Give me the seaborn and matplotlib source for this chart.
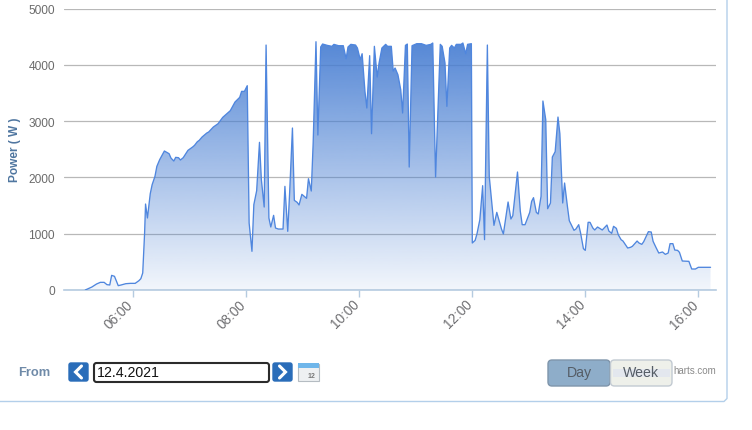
import numpy as np
import pandas as pd
import matplotlib
matplotlib.use("Agg")
import matplotlib.pyplot as plt
from matplotlib.colors import LinearSegmentedColormap
from matplotlib.patches import FancyBboxPatch, Rectangle
from matplotlib.transforms import ScaledTranslation
import seaborn as sns

minutes = [309,316,321,325,329,332,335,337,340,344,347,352,357,362,366,368,370,372,373,375,378,380,383,385,388,393,398,400,403,405,408,410,413,418,423,425,428,430,433,438,440,445,450,455,463,468,473,475,478,481,
           483,486,488,491,494,496,499,501,504,506,509,511,514,519,521,524,526,529,531,534,536,539,544,546,549,551,554,556,559,561,566,571,573,578,583,586,588,591,596,598,601,603,606,608,611,613,616,619,621,624,
           628,630,634,636,638,641,644,646,649,651,653,656,661,666,671,676,678,681,686,688,691,693,696,698,701,703,708,710,713,715,719,720,723,725,728,731,733,736,738,741,743,746,751,753,758,761,763,768,771,773,
           776,781,783,785,788,790,793,795,798,800,803,805,808,811,813,816,818,821,823,828,830,833,835,838,840,843,845,848,850,853,858,863,865,868,870,873,875,878,880,885,888,890,895,897,900,902,907,910,912,915,
           918,922,925,928,930,933,935,938,940,943,950,953,957,960,973]
watts = [0,53,107,136,136,95,89,260,243,77,89,112,118,118,166,201,302,1012,1527,1279,1711,1871,2019,2196,2315,2469,2421,2344,2291,2356,2350,2309,2350,2480,2540,2569,2634,2658,2717,2788,2806,2895,2954,3067,3185,3339,3422,3528,3528,3629,
         1190,687,1516,1764,2623,1960,1474,4351,1279,1119,1326,1101,1083,1083,1841,1042,1723,2877,1592,1557,1510,1699,1628,1977,1758,2611,4410,2753,4316,4369,4345,4328,4363,4339,4339,4108,4316,4363,4351,4298,4091,4197,3528,3232,4162,2776,4328,3783,4032,4298,
         4363,4328,4328,3889,3943,3824,3558,3144,4345,4369,2184,4339,4375,4375,4345,4363,4387,2007,4363,4328,4032,3262,4298,4345,4298,4363,4363,4387,4197,4363,4375,835,882,1000,1249,1853,894,4351,2019,1486,1148,1379,1083,995,1563,1261,1320,2096,1397,1160,
         1160,1379,1575,1640,1379,1350,1664,3357,3025,1444,1545,2362,2457,3072,2776,1545,1900,1486,1231,1060,1083,1160,1012,734,704,1202,1202,1101,1066,1119,1066,1154,1048,1006,1131,1095,983,894,870,746,758,776,870,835,811,858,1036,1030,864,758,
         657,675,633,657,823,823,710,704,669,515,509,373,373,403,403]
x_ticks = [360, 480, 600, 720, 840, 960]
x_labels = ["06:00", "08:00", "10:00", "12:00", "14:00", "16:00"]
y_ticks = [0, 1000, 2000, 3000, 4000, 5000]
y_title = "Power ( W )"
date_text = "12.4.2021"
from_text = "From"
range_buttons = ["Day", "Week"]
credit_text = "harts.com"

sns.set_theme(style="white")
plt.rcParams["font.family"] = ["Liberation Sans", "DejaVu Sans"]

W, H = 752, 431
fig = plt.figure(figsize=(W / 100, H / 100), dpi=100, facecolor="white")
ax = fig.add_axes([64 / W, 1 - 291 / H, (716 - 64) / W, (291 - 9.5) / H])
df = pd.DataFrame({"minute": minutes, "power": watts})

ax.set_xlim(286.4, 978.8)
ax.set_ylim(0, 5000)
ax.set_axisbelow(True)
ax.yaxis.grid(True, color="#b8b8b8", lw=0.9)
ax.xaxis.grid(False)

cmap = LinearSegmentedColormap.from_list(
    "fade", [(70 / 255, 125 / 255, 210 / 255, 0.92), (70 / 255, 125 / 255, 210 / 255, 0.07)]
)
area = ax.fill_between(df["minute"], df["power"], 0, color="none", lw=0)
grad = ax.imshow(np.linspace(0, 1, 256).reshape(-1, 1), cmap=cmap, aspect="auto", origin="upper",
                 extent=[df["minute"].min(), df["minute"].max(), 0, df["power"].max()], zorder=2)
grad.set_clip_path(area.get_paths()[0], transform=ax.transData)
ax.set_xlim(286.4, 978.8)
ax.set_ylim(0, 5000)

sns.lineplot(data=df, x="minute", y="power", ax=ax, color="#4f86de", lw=0.95, zorder=3,
             estimator=None, sort=False)

for s in ["top", "left", "right"]:
    ax.spines[s].set_visible(False)
ax.spines["bottom"].set_color("#b5cbe0")
ax.spines["bottom"].set_linewidth(1.2)
ax.set_xticks(x_ticks)
ax.set_xticklabels(x_labels, rotation=45, ha="right", rotation_mode="anchor")
ax.set_yticks(y_ticks)
ax.tick_params(axis="x", length=5, width=1, color="#b5cbe0", labelcolor="#6f6f72", labelsize=9.8, pad=6, bottom=True)
ax.tick_params(axis="y", length=0, labelcolor="#6b6b6b", labelsize=8.6, pad=6.5)
offset = ScaledTranslation(-7.5 / 100, 8.5 / 100, fig.dpi_scale_trans)
for lab in ax.get_xticklabels():
    lab.set_transform(lab.get_transform() + offset)
ax.set_xlabel("")
ax.set_ylabel("")

ui = fig.add_axes([0, 0, 1, 1], facecolor="none", zorder=5)
ui.set_xlim(0, W)
ui.set_ylim(H, 0)
ui.axis("off")

ui.text(15, 150, y_title, rotation=90, ha="center", va="center", fontsize=8.6, fontweight="bold", color="#4f76a0")
ui.plot([0, 724, 727, 727], [402.5, 402.5, 399.5, 0], color="#b3cfea", lw=1.0)
ui.text(18, 373, from_text, ha="left", va="center", fontsize=9.3, fontweight="bold", color="#6f8aa8")

def box(x0, y0, x1, y1, fc, ec, lw=1, r=3):
    ui.add_patch(FancyBboxPatch((x0 + r, y0 + r), x1 - x0 - 2 * r, y1 - y0 - 2 * r,
                                boxstyle=f"round,pad={r},rounding_size={r}", fc=fc, ec=ec, lw=lw))

def chevron(cx, cy, d):
    ui.plot([cx - d * 3, cx + d * 3, cx - d * 3], [cy - 6, cy, cy + 6], color="white", lw=2.2,
            solid_capstyle="round", solid_joinstyle="miter")

box(69, 364, 88, 382, "#2a6db9", "#2a6db9", r=2)
chevron(78.5, 373, -1)
box(273, 364, 292, 382, "#2a6db9", "#2a6db9", r=2)
chevron(282.5, 373, 1)
box(94, 364, 269, 383, "white", "#2b2b2b", lw=1.5, r=2.5)
ui.text(97, 373.5, date_text, ha="left", va="center", fontsize=10.2, color="#111111")

ui.add_patch(Rectangle((297.5, 364.5), 21, 17, fc="#eef0f2", ec="#b5bcc2", lw=0.8))
ui.add_patch(Rectangle((297.5, 364), 21, 5, fc="#6fb6ea", ec="none"))
ui.text(312, 376.5, "12", ha="center", va="center", fontsize=5, fontweight="bold", color="#777777")

box(548, 361, 610, 387, "#8eadc9", "#7f95ab", r=4)
box(610.5, 361, 672, 387, "#eef0ea", "#c2cad2", r=4)
ui.add_patch(Rectangle((613, 370), 57, 8, fc="#e3e7ee", ec="none"))
ui.text(579, 373.5, range_buttons[0], ha="center", va="center", fontsize=10.2, color="#555d66")
ui.text(641, 373.5, range_buttons[1], ha="center", va="center", fontsize=10.2, color="#555d66")
ui.text(673, 371, credit_text, ha="left", va="center", fontsize=7, color="#8a8a8a")

fig.savefig("out.png", dpi=100, facecolor="white")
